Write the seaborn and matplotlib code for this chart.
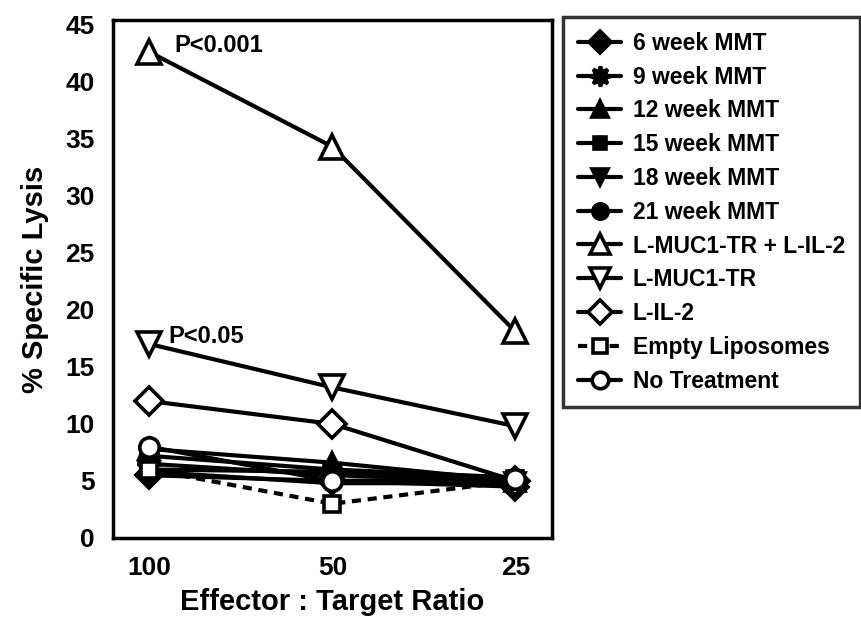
import matplotlib
matplotlib.use("Agg")
import matplotlib.pyplot as plt
import seaborn as sns
import pandas as pd

ratios = [100, 50, 25]
tick_labels = ["100", "50", "25"]
series_names = ["6 week MMT", "9 week MMT", "12 week MMT", "15 week MMT",
                "18 week MMT", "21 week MMT", "L-MUC1-TR + L-IL-2",
                "L-MUC1-TR", "L-IL-2", "Empty Liposomes", "No Treatment"]
wk6 = [5.5, 5.0, 4.5]
wk9 = [6.5, 5.5, 5.0]
wk12 = [7.8, 6.6, 5.0]
wk15 = [6.0, 5.8, 5.2]
wk18 = [5.8, 4.8, 4.8]
wk21 = [7.2, 6.0, 5.3]
muc_il2 = [42.6, 34.3, 18.1]
muc = [17.0, 13.2, 9.8]
il2 = [12.0, 10.0, 5.0]
empty_lipo = [6.0, 3.0, 5.0]
no_treat = [8.0, 5.0, 5.2]
values = [wk6, wk9, wk12, wk15, wk18, wk21, muc_il2, muc, il2, empty_lipo, no_treat]

markers = ["D", (8, 1, 0), "^", "s", "v", "o", "^", "v", "D", "s", "o"]
filled = [True] * 6 + [False] * 5
sizes = [13, 17, 14, 11, 14, 13, 17, 17, 14, 12, 14]
dashed = [False] * 9 + [True, False]

sns.set_style("white")
plt.rcParams["font.family"] = ["Liberation Sans", "DejaVu Sans"]
plt.rcParams["font.weight"] = "bold"
plt.rcParams["text.color"] = "black"
plt.rcParams["axes.labelcolor"] = "black"
plt.rcParams["xtick.color"] = "black"
plt.rcParams["ytick.color"] = "black"

fig = plt.figure(figsize=(8.61, 6.27), dpi=100)
ax = fig.add_axes([0.131, 0.142, 0.510, 0.826])

for name, vals, m, f, s, d in zip(series_names, values, markers, filled, sizes, dashed):
    df = pd.DataFrame({"ratio": ratios, "lysis": vals})
    sns.lineplot(data=df, x="ratio", y="lysis", ax=ax, color="black",
                 linewidth=3.0, marker=m, markersize=s,
                 markerfacecolor="black" if f else "white",
                 markeredgecolor="black", markeredgewidth=2.6,
                 linestyle=(0, (2.2, 1.6)) if d else "-",
                 label=name, sort=False)

ax.set_xscale("log")
ax.set_xlim(100 * 2 ** 0.2, 25 / 2 ** 0.2)
ax.set_xticks(ratios)
ax.set_xticklabels(tick_labels)
ax.minorticks_off()
ax.set_ylim(0, 45.4)
ax.set_yticks(range(0, 46, 5))

for sp in ax.spines.values():
    sp.set_linewidth(2.5)
    sp.set_color("black")
ax.tick_params(axis="both", direction="out", length=9, width=2.5,
               labelsize=19, colors="black", pad=4)
for lbl in ax.get_xticklabels() + ax.get_yticklabels():
    lbl.set_fontweight("bold")

ax.set_xlabel("Effector : Target Ratio", fontsize=21, fontweight="bold",
              labelpad=6, color="black")
ax.set_ylabel("% Specific Lysis", fontsize=21, fontweight="bold",
              labelpad=12, color="black")

ax.text(91, 43.2, "P<0.001", fontsize=17, fontweight="bold", va="center",
        color="black")
ax.text(93, 17.7, "P<0.05", fontsize=17, fontweight="bold", va="center",
        color="black")

handles, labels = ax.get_legend_handles_labels()
if ax.get_legend():
    ax.get_legend().remove()
leg = fig.legend(handles, labels, loc="upper left",
                 bbox_to_anchor=(563 / 861, 1 - 17 / 627),
                 frameon=True, fancybox=False,
                 prop={"weight": "bold", "size": 16.5},
                 handlelength=1.9, handletextpad=0.5, labelspacing=0.47,
                 borderpad=0.65, borderaxespad=0, markerscale=0.85)
leg.get_frame().set_edgecolor("black")
leg.get_frame().set_linewidth(2.5)
for t in leg.get_texts():
    t.set_color("black")

fig.savefig("out.png", dpi=100)
